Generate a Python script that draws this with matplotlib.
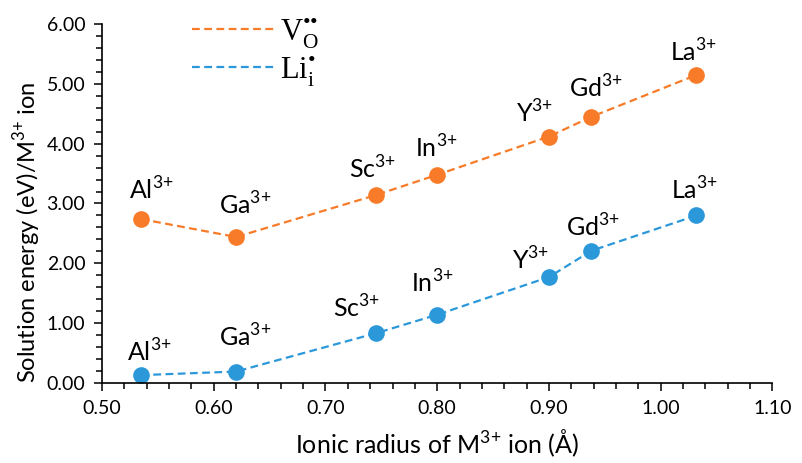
import matplotlib
matplotlib.use("Agg")
import matplotlib.pyplot as plt
from matplotlib.lines import Line2D
from matplotlib.ticker import MultipleLocator, FormatStrFormatter

plt.rcParams['font.family'] = ['Lato', 'DejaVu Sans']
plt.rcParams['mathtext.fontset'] = 'custom'
plt.rcParams['mathtext.rm'] = 'Liberation Serif'
plt.rcParams['mathtext.sf'] = 'Lato'

# data
ions = ['Al', 'Ga', 'Sc', 'In', 'Y', 'Gd', 'La']
radius = [0.535, 0.62, 0.745, 0.80, 0.90, 0.938, 1.032]
e_vac = [2.74, 2.44, 3.14, 3.48, 4.12, 4.45, 5.15]
e_li = [0.13, 0.19, 0.83, 1.14, 1.77, 2.21, 2.80]

orange = '#F77B28'
blue = '#2B98DA'
sup = r'$^{\mathsf{3{+}}}$'

# label offsets in pixels (dx, dy) so they sit like the original
off_vac = [(10, 19), (9, 22), (-3, 17), (-1, 17), (-14, 14), (5, 19), (-3, 13)]
off_li = [(8, 14), (9, 25), (-19, 16), (-5, 22), (-18, 7), (2, 14), (-2, 16)]

fig = plt.figure(figsize=(8.03, 4.63), dpi=100)
ax = fig.add_axes([0.127, 0.173, 0.835, 0.775])

for yv, col, offs in [(e_vac, orange, off_vac), (e_li, blue, off_li)]:
    ax.plot(radius, yv, color=col, linestyle='--', linewidth=1.6, dashes=(3.5, 2),
            marker='o', markersize=12, markeredgewidth=0, clip_on=False)
    for name, x, y, (dx, dy) in zip(ions, radius, yv, offs):
        ax.annotate(name + sup, (x, y), xytext=(dx, dy),
                    textcoords='offset pixels', ha='center', va='baseline', fontsize=18)

ax.set_xlim(0.50, 1.10)
ax.set_ylim(0.0, 6.0)
ax.xaxis.set_major_locator(MultipleLocator(0.1))
ax.xaxis.set_minor_locator(MultipleLocator(0.02))
ax.yaxis.set_major_locator(MultipleLocator(1.0))
ax.yaxis.set_minor_locator(MultipleLocator(0.2))
ax.xaxis.set_major_formatter(FormatStrFormatter('%.2f'))
ax.yaxis.set_major_formatter(FormatStrFormatter('%.2f'))
ax.tick_params(which='both', direction='out', width=1.1, labelsize=14, colors='black')
ax.tick_params(which='major', length=6, pad=6)
ax.tick_params(which='minor', length=4)

for s in ['top', 'right']:
    ax.spines[s].set_visible(False)
for s in ['left', 'bottom']:
    ax.spines[s].set_linewidth(1.2)

ax.set_xlabel('Ionic radius of M' + sup + ' ion (Å)', fontsize=18, labelpad=8)
ax.set_ylabel('Solution energy (eV)/M' + sup + ' ion', fontsize=17)
ax.yaxis.set_label_coords(-0.088, 0.42)

handles = [Line2D([], [], color=orange, linestyle='--', dashes=(3.5, 2), linewidth=1.6),
           Line2D([], [], color=blue, linestyle='--', dashes=(3.5, 2), linewidth=1.6)]
labels = [r'$\mathrm{V}_{\mathrm{O}}^{\mathrm{••}}$', r'$\mathrm{Li}_{\mathrm{i}}^{\mathrm{•}}$']
ax.legend(handles, labels, loc='upper left', bbox_to_anchor=(0.093, 1.1), frameon=False,
          fontsize=22, handlelength=2.75, handletextpad=0.15, labelspacing=0.1)

fig.savefig('out.png', dpi=100)
